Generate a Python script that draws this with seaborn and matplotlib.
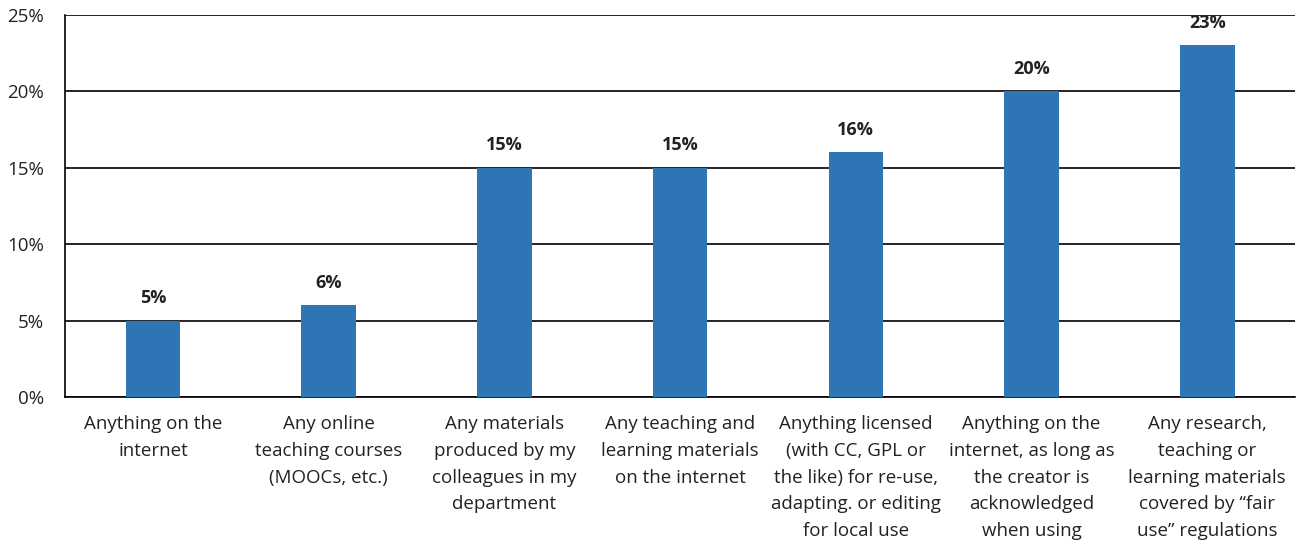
import pandas as pd
import seaborn as sns
import matplotlib.pyplot as plt
from matplotlib.ticker import PercentFormatter

categories = [
    'Anything on the\ninternet',
    'Any online\nteaching courses\n(MOOCs, etc.)',
    'Any materials\nproduced by my\ncolleagues in my\ndepartment',
    'Any teaching and\nlearning materials\non the internet',
    'Anything licensed\n(with CC, GPL or\nthe like) for re-use,\nadapting. or editing\nfor local use',
    'Anything on the\ninternet, as long as\nthe creator is\nacknowledged\nwhen using',
    'Any research,\nteaching or\nlearning materials\ncovered by \u201cfair\nuse\u201d regulations',
]
values = [5, 6, 15, 15, 16, 20, 23]

df = pd.DataFrame({'category': categories, 'value': values})

sns.set_style('white')
plt.rcParams['font.family'] = ['Open Sans', 'DejaVu Sans']

fig = plt.figure(figsize=(13.01, 5.45), dpi=100)
ax = fig.add_axes([0.05, 0.2716, 0.9455, 0.701])

sns.barplot(data=df, x='category', y='value', color='#2E75B6', saturation=1,
            width=0.31, linewidth=0, ax=ax, zorder=3)

ax.set_ylim(0, 25)
ax.set_yticks([0, 5, 10, 15, 20, 25])
ax.yaxis.set_major_formatter(PercentFormatter(decimals=0))
ax.set_xlim(-0.5, len(categories) - 0.5)
ax.yaxis.grid(True, color='black', linewidth=1.2, zorder=0)
ax.set_axisbelow(True)

for side in ['top', 'right']:
    ax.spines[side].set_visible(False)
ax.spines['left'].set_color('black')
ax.spines['bottom'].set_color('black')
ax.spines['left'].set_linewidth(1.2)
ax.spines['bottom'].set_linewidth(1.2)

ax.set_xticks([i + 0.5 for i in range(-1, len(categories))], minor=True)
ax.tick_params(axis='x', which='minor', length=6, width=1.2, color='black', direction='out')
ax.tick_params(axis='x', which='major', length=0, pad=13, labelsize=13.5, colors='#222222')
ax.tick_params(axis='y', length=0, pad=15, labelsize=13.5, colors='#222222')
ax.set_xticklabels(categories, linespacing=1.63, va='top')

for i, v in enumerate(values):
    ax.text(i, v + 0.9, f'{v}%', ha='center', va='bottom', fontsize=13,
            fontweight='bold', color='#222222')

ax.set_xlabel('')
ax.set_ylabel('')

fig.savefig('out.png', dpi=100)
